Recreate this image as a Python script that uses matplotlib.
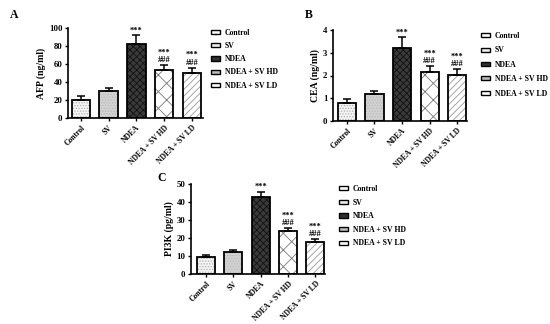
import matplotlib
matplotlib.use("Agg")
import matplotlib.pyplot as plt
from matplotlib.patches import Patch

plt.rcParams['font.family'] = ['Liberation Serif', 'DejaVu Serif']
plt.rcParams['font.weight'] = 'bold'
plt.rcParams['hatch.linewidth'] = 0.6

groups = ["Control", "SV", "NDEA", "NDEA + SV HD", "NDEA + SV LD"]

afp_mean = [20, 30, 82, 53, 50]
afp_err = [4, 3, 10, 6, 6]
cea_mean = [0.8, 1.17, 3.2, 2.15, 2.02]
cea_err = [0.15, 0.13, 0.48, 0.27, 0.26]
pi3k_mean = [9.5, 12.3, 43, 23.8, 18]
pi3k_err = [1.1, 0.8, 2.5, 1.7, 1.5]

stars = ["", "", "***", "***", "***"]
hashes = ["", "", "", "###", "###"]

faces = ["#f4f4f4", "#d2d2d2", "#3a3a3a", "#ffffff", "#ffffff"]
hatches = ["......", "......", "xxxxx", "xx", "/////"]
hcolors = ["#b0b0b0", "#b8b8b8", "#111111", "#777777", "#999999"]
leg_faces = ["#ffffff", "#f0f0f0", "#303030", "#bbbbbb", "#ffffff"]

fig = plt.figure(figsize=(5.5, 3.24), dpi=100)

def px_axes(l, r, t, b):
    W, H = 550, 324
    return fig.add_axes([l / W, 1 - b / H, (r - l) / W, (b - t) / H])

def panel(ax, means, errs, ylabel, ymax, ystep, xlim, letter, lpos, legpos, lspace):
    x = list(range(len(groups)))
    for i in x:
        ax.bar(i, means[i], width=0.66, color=faces[i], hatch=hatches[i],
               edgecolor=hcolors[i], linewidth=0, zorder=2)
        ax.bar(i, means[i], width=0.66, fill=False, edgecolor="black",
               linewidth=1.3, zorder=3)
    ax.errorbar(x, means, yerr=[[0] * 5, errs], fmt="none", ecolor="black",
                elinewidth=1.1, capsize=3.2, capthick=1.1, zorder=4)
    for i in x:
        top = means[i] + errs[i]
        if hashes[i]:
            ax.text(i, top + ymax * 0.01, hashes[i], ha="center", va="bottom",
                    fontsize=6, fontweight="bold")
            ax.text(i, top + ymax * 0.095, stars[i], ha="center", va="bottom",
                    fontsize=6, fontweight="bold")
        elif stars[i]:
            ax.text(i, top + ymax * 0.01, stars[i], ha="center", va="bottom",
                    fontsize=6, fontweight="bold")
    ax.set_ylim(0, ymax)
    ax.set_xlim(*xlim)
    ax.set_yticks([ystep * k for k in range(int(round(ymax / ystep)) + 1)])
    ax.set_xticks(x)
    ax.set_xticklabels(groups, rotation=45, ha="right", rotation_mode="anchor",
                       fontsize=5.5, fontweight="bold")
    for lab in ax.get_yticklabels():
        lab.set_fontsize(6.3)
        lab.set_fontweight("bold")
    ax.set_ylabel(ylabel, fontsize=7, fontweight="bold", labelpad=2)
    for s in ["top", "right"]:
        ax.spines[s].set_visible(False)
    for s in ["left", "bottom"]:
        ax.spines[s].set_linewidth(1.2)
    ax.tick_params(axis="both", width=1.0, length=2.5, pad=1.5)
    fig.text(lpos[0] / 550, 1 - lpos[1] / 324, letter, fontsize=8.5,
             fontweight="bold", ha="left", va="center")
    handles = [Patch(facecolor=leg_faces[i], edgecolor="black",
                     linewidth=1.0, label=groups[i]) for i in x]
    leg = fig.legend(handles=handles, loc="upper left",
                     bbox_to_anchor=(legpos[0] / 550, 1 - legpos[1] / 324),
                     frameon=False, fontsize=5.6, handlelength=1.2,
                     handleheight=0.45, handletextpad=0.55, labelspacing=lspace,
                     borderaxespad=0, borderpad=0)
    for t in leg.get_texts():
        t.set_fontweight("bold")

axA = px_axes(68, 203, 28, 118)
panel(axA, afp_mean, afp_err, "AFP (ng/ml)", 100, 20, (-0.46, 4.4), "A",
      (10, 15), (211, 29), 0.66)

axB = px_axes(333, 467, 30, 121)
panel(axB, cea_mean, cea_err, "CEA (ng/ml)", 4, 1, (-0.5, 4.35), "B",
      (305, 15), (481, 32), 0.82)

axC = px_axes(191, 325, 184, 274)
panel(axC, pi3k_mean, pi3k_err, "PI3K (pg/ml)", 50, 10, (-0.55, 4.35), "C",
      (157, 178), (339, 185), 0.72)

fig.savefig("out.png", dpi=100, facecolor="white")
